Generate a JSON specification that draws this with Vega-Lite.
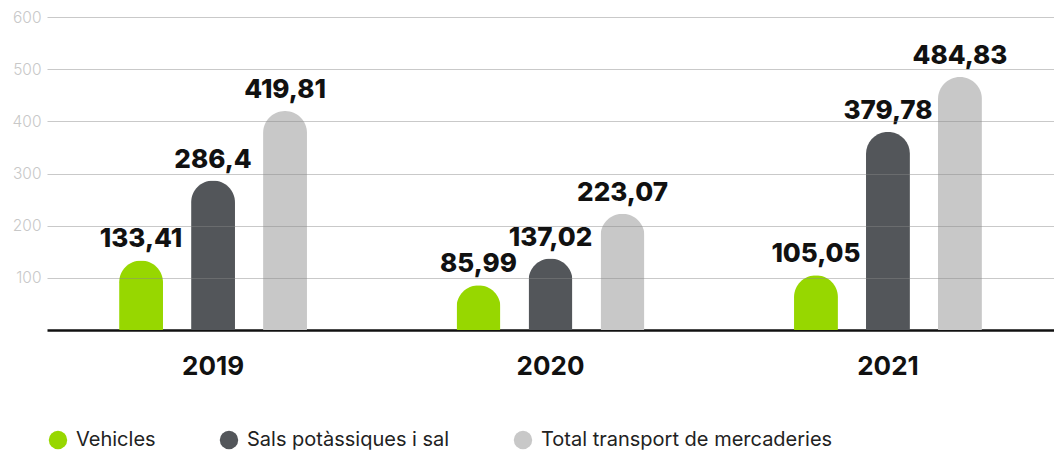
{
  "$schema": "https://vega.github.io/schema/vega-lite/v6.json",
  "width": 1007,
  "height": 313,
  "autosize": {"type": "none"},
  "padding": {"left": 47, "top": 17, "right": 0, "bottom": 125},
  "background": "white",
  "config": {
    "view": {"stroke": null},
    "font": "Inter",
    "locale": {"number": {"decimal": ",", "thousands": ".", "grouping": [3], "currency": ["", " €"]}}
  },
  "data": {
    "values": [
      {"year": "2019", "series": "Vehicles", "value": 133.41},
      {"year": "2019", "series": "Sals potàssiques i sal", "value": 286.4},
      {"year": "2019", "series": "Total transport de mercaderies", "value": 419.81},
      {"year": "2020", "series": "Vehicles", "value": 85.99},
      {"year": "2020", "series": "Sals potàssiques i sal", "value": 137.02},
      {"year": "2020", "series": "Total transport de mercaderies", "value": 223.07},
      {"year": "2021", "series": "Vehicles", "value": 105.05},
      {"year": "2021", "series": "Sals potàssiques i sal", "value": 379.78},
      {"year": "2021", "series": "Total transport de mercaderies", "value": 484.83}
    ]
  },
  "encoding": {
    "x": {
      "field": "year", "type": "nominal",
      "scale": {"paddingInner": 0.36, "paddingOuter": 0.172},
      "axis": {
        "title": null, "labelAngle": 0, "ticks": false, "domainColor": "#111", "domainWidth": 2.5,
        "labelFontSize": 26, "labelFontWeight": "bold", "labelColor": "#111", "labelPadding": 23, "labelFont": "Inter"
      }
    },
    "xOffset": {
      "field": "series", "type": "nominal",
      "sort": ["Vehicles", "Sals potàssiques i sal", "Total transport de mercaderies"],
      "scale": {"paddingInner": 0.39, "paddingOuter": 0.195}
    },
    "y": {
      "field": "value", "type": "quantitative",
      "scale": {"domain": [0, 600], "nice": false},
      "axis": {
        "title": null, "values": [100, 200, 300, 400, 500, 600], "domain": false, "ticks": false,
        "labelColor": "#c8c8c8", "labelFontSize": 15.5, "labelFontWeight": 300, "labelPadding": 6,
        "gridColor": "#888", "gridOpacity": 0.45, "gridWidth": 1, "zindex": 1
      }
    }
  },
  "layer": [
    {
      "mark": {"type": "bar", "cornerRadiusTopLeft": 22, "cornerRadiusTopRight": 22},
      "encoding": {
        "color": {
          "field": "series", "type": "nominal",
          "sort": ["Vehicles", "Sals potàssiques i sal", "Total transport de mercaderies"],
          "scale": {"domain": ["Vehicles", "Sals potàssiques i sal", "Total transport de mercaderies"], "range": ["#97d700", "#53565a", "#c8c8c8"]},
          "legend": {
            "title": null, "orient": "none", "legendX": 1, "legendY": 413, "direction": "horizontal",
            "symbolType": "circle", "symbolSize": 340, "symbolStrokeWidth": 0, "symbolOpacity": 1,
            "labelFontSize": 20, "labelColor": "#222", "labelFont": "Inter", "labelOffset": 8, "labelLimit": 400,
            "columnPadding": 63, "symbolLimit": 10
          }
        }
      }
    },
    {
      "mark": {"type": "text", "baseline": "bottom", "dy": -8, "fontSize": 26, "fontWeight": 800, "color": "#111", "font": "Inter"},
      "encoding": {"text": {"field": "value", "type": "quantitative"}}
    }
  ]
}
